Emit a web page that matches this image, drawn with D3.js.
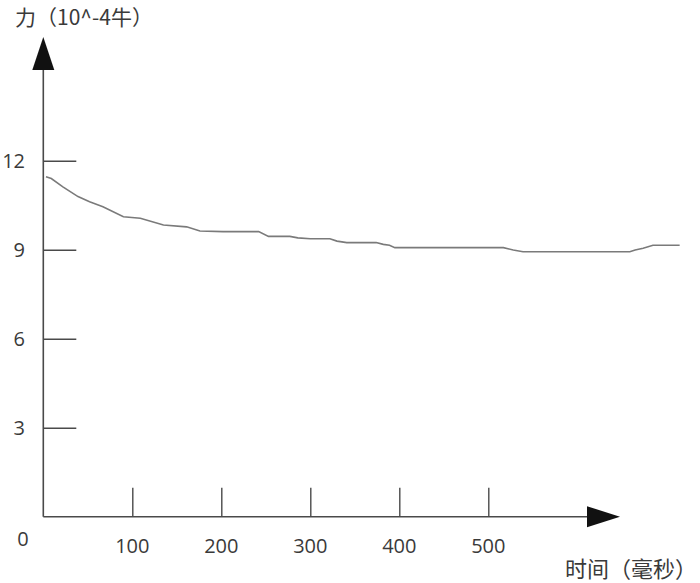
<!DOCTYPE html>
<html><head><meta charset="utf-8">
<script src="https://cdn.jsdelivr.net/npm/d3@7"></script>
<style>
html,body{margin:0;padding:0;background:#fff;}
svg{display:block;}
</style></head>
<body>
<svg id="chart" width="700" height="583"></svg>
<script>
const timeMs = [3, 9, 22, 39, 52, 67, 90, 109, 135, 161, 176, 202, 242, 253, 277, 286, 300, 322, 330, 341, 374, 382, 389, 395, 491, 517, 528, 539, 659, 665, 674, 685, 715];
const force = [11.46, 11.4, 11.12, 10.79, 10.62, 10.45, 10.11, 10.06, 9.83, 9.77, 9.63, 9.61, 9.61, 9.45, 9.45, 9.4, 9.37, 9.37, 9.29, 9.24, 9.24, 9.18, 9.15, 9.07, 9.07, 9.07, 8.99, 8.93, 8.93, 8.99, 9.05, 9.15, 9.15];
const xTicks = [100, 200, 300, 400, 500];
const yTicks = [3, 6, 9, 12];
const originLabel = "0";
const yTitle = "力（10^-4牛）";
const xTitle = "时间（毫秒）";

const svg = d3.select("#chart");
const x = d3.scaleLinear().domain([0, 600]).range([43.3, 577.3]);
const y = d3.scaleLinear().domain([0, 12]).range([516.7, 160.7]);
const axisColor = "#4a4a4a";
const textColor = "#3a3a3a";
const font = "'Open Sans', 'Noto Sans', sans-serif";
const cjk = "'Noto Sans CJK SC', sans-serif";

// axis lines
svg.append("line").attr("x1", x(0)).attr("x2", 588).attr("y1", y(0)).attr("y2", y(0))
  .attr("stroke", axisColor).attr("stroke-width", 1.6);
svg.append("line").attr("x1", x(0)).attr("x2", x(0)).attr("y1", y(0)).attr("y2", 69)
  .attr("stroke", axisColor).attr("stroke-width", 1.6);
// arrowheads
svg.append("path").attr("d", `M587,${y(0)-10.5} L620,${y(0)} L587,${y(0)+10.5} Z`).attr("fill", "#111");
svg.append("path").attr("d", `M${x(0)-11},70 L${x(0)},37 L${x(0)+11},70 Z`).attr("fill", "#111");

// ticks via d3 axes
const xAxis = d3.axisTop(x).tickValues(xTicks).tickSize(29).tickFormat("");
const gx = svg.append("g").attr("transform", `translate(0,${y(0)})`).call(xAxis);
gx.select(".domain").remove();
gx.selectAll(".tick line").attr("stroke", axisColor).attr("stroke-width", 1.4);

const yAxis = d3.axisRight(y).tickValues(yTicks).tickSize(33).tickFormat("");
const gy = svg.append("g").attr("transform", `translate(${x(0)},0)`).call(yAxis);
gy.select(".domain").remove();
gy.selectAll(".tick line").attr("stroke", axisColor).attr("stroke-width", 1.4);

// tick labels
svg.append("g").selectAll("text").data(xTicks).join("text")
  .attr("x", d => x(d)).attr("y", 553).attr("text-anchor", "middle")
  .attr("font-family", font).attr("font-size", 20).attr("fill", textColor).text(d => d);
svg.append("g").selectAll("text").data(yTicks).join("text")
  .attr("x", 25).attr("y", d => y(d)).attr("dy", "0.35em").attr("text-anchor", "end")
  .attr("font-family", font).attr("font-size", 20).attr("fill", textColor).text(d => d);
svg.append("text").attr("x", 23).attr("y", 546).attr("text-anchor", "middle")
  .attr("font-family", font).attr("font-size", 20).attr("fill", textColor).text(originLabel);

// titles
svg.append("text").attr("x", 15).attr("y", 25).attr("font-family", cjk).attr("font-size", 21)
  .attr("fill", textColor).text(yTitle);
svg.append("text").attr("x", 697).attr("y", 577).attr("text-anchor", "end").attr("font-family", cjk).attr("font-size", 22)
  .attr("fill", textColor).text(xTitle);

// data line
const pts = timeMs.map((t, i) => [t, force[i]]);
svg.append("path").datum(pts)
  .attr("d", d3.line().x(d => x(d[0])).y(d => y(d[1])))
  .attr("fill", "none").attr("stroke", "#7a7a7a").attr("stroke-width", 1.6);
</script>
</body></html>
